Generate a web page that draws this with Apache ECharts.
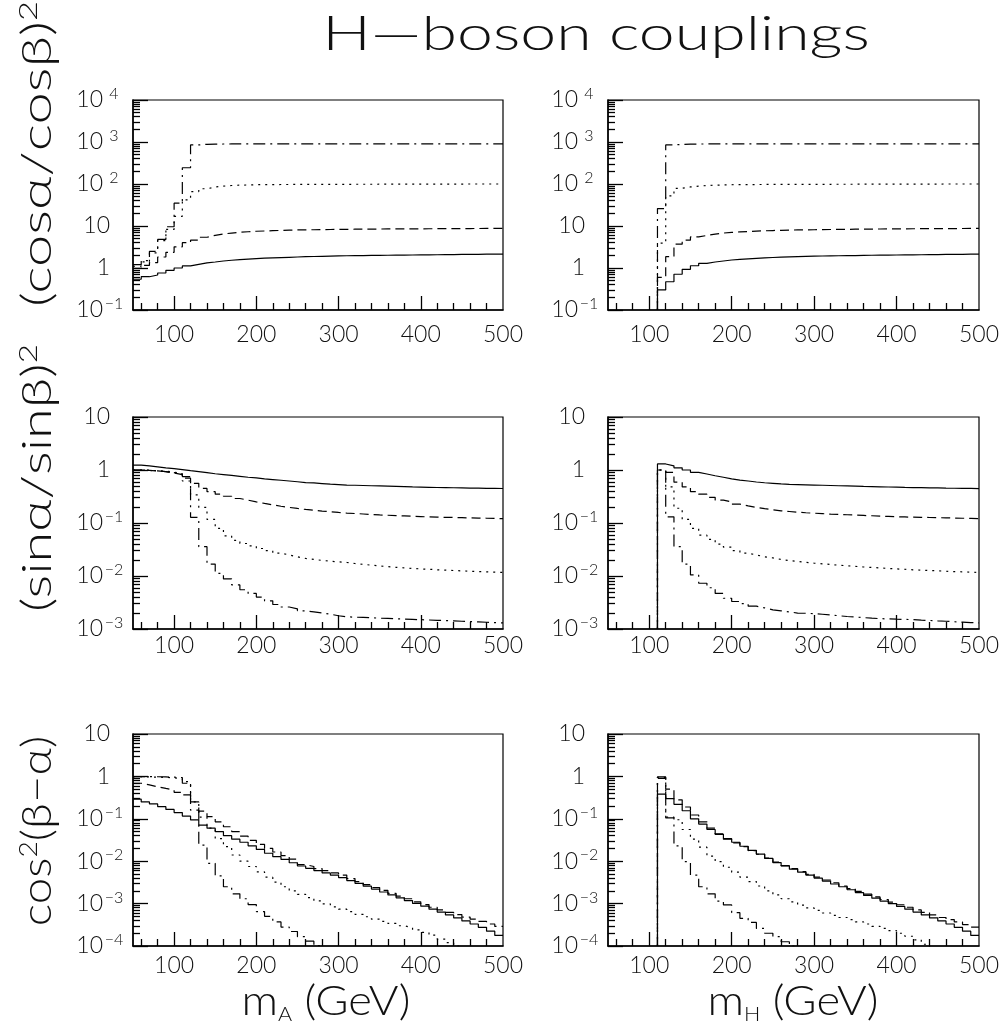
<!DOCTYPE html>
<html><head><meta charset="utf-8">
<script src="https://cdn.jsdelivr.net/npm/echarts@6/dist/echarts.min.js"></script>
<style>html,body{margin:0;padding:0;background:#fff}#c{width:1005px;height:1026px}</style>
</head><body><div id="c"></div>
<script>
// ---------- data (bin left edges, GeV) ----------
const binsA = [50,60,70,80,90,100,110,120,130,140,150,160,170,180,190,200,210,220,230,240,250,260,270,280,290,300,310,320,330,340,350,360,370,380,390,400,410,420,430,440,450,460,470,480,490];
const binsH = [110,120,130,140,150,160,170,180,190,200,210,220,230,240,250,260,270,280,290,300,310,320,330,340,350,360,370,380,390,400,410,420,430,440,450,460,470,480,490];
const binWidth = 10;

const xTickLabels = [100,200,300,400,500];
const xMajorTicks = [100,200,300,400];
const xMinorTicks = [60,80,120,140,160,180,220,240,260,280,320,340,360,380,420,440,460,480];
const yTicksTop = [0.1,1,10,100,1000,10000];
const yTicksMid = [0.001,0.01,0.1,1,10];
const yTicksBot = [0.0001,0.001,0.01,0.1,1,10];

// (cos a / cos b)^2 vs mA
const tlSolid = [0.54,0.62,0.68,0.76,0.88,1.0,1.12,1.22,1.32,1.39,1.47,1.53,1.58,1.63,1.67,1.71,1.74,1.77,1.80,1.83,1.86,1.88,1.90,1.92,1.94,1.96,1.97,1.98,1.99,2.0,2.01,2.02,2.03,2.04,2.05,2.06,2.07,2.08,2.09,2.10,2.11,2.12,2.13,2.14,2.15];
const tlDash = [0.98,1.15,1.35,1.83,2.36,3.2,4.0,4.6,5.4,6.0,6.45,6.8,7.1,7.3,7.5,7.6,7.75,7.85,7.95,8.05,8.1,8.15,8.2,8.25,8.3,8.35,8.38,8.41,8.44,8.47,8.5,8.52,8.54,8.56,8.58,8.6,8.62,8.64,8.66,8.68,8.7,8.72,8.74,8.76,8.78];
const tlDot = [1.1,1.4,2.3,4.5,8.3,17,42,66,77,85,89,92,94,95,96,96.5,97,97.2,97.4,97.6,97.8,98,98.1,98.2,98.3,98.4,98.5,98.6,98.7,98.8,98.9,99,99.1,99.2,99.3,99.4,99.5,99.6,99.7,99.8,99.9,100,100,100,100];
const tlDashDot = [1.2,1.5,2.5,4.8,9.6,35,244,850,880,890,895,898,900,900,900,900,900,900,900,900,900,900,900,900,900,900,900,900,900,900,900,900,900,900,900,900,900,900,900,900,900,900,900,900,900];
// (cos a / cos b)^2 vs mH
const trSolid = [0.30,0.47,0.71,0.93,1.13,1.29,1.39,1.47,1.55,1.60,1.65,1.70,1.74,1.78,1.81,1.84,1.87,1.89,1.91,1.93,1.95,1.96,1.97,1.98,2.0,2.01,2.02,2.03,2.04,2.05,2.06,2.07,2.08,2.09,2.10,2.11,2.12,2.13,2.14];
const trDash = [0.6,1.86,3.7,4.6,5.5,5.95,6.4,6.8,7.05,7.25,7.4,7.55,7.7,7.8,7.9,8.0,8.05,8.1,8.15,8.2,8.25,8.3,8.34,8.38,8.42,8.45,8.48,8.51,8.54,8.57,8.6,8.62,8.64,8.66,8.68,8.7,8.72,8.75,8.78];
const trDot = [3.9,52,79,85,89,92,94,95,96,96.5,97,97.2,97.4,97.6,97.8,98,98.1,98.2,98.3,98.4,98.5,98.6,98.7,98.8,98.9,99,99.1,99.2,99.3,99.4,99.5,99.6,99.7,99.8,99.9,100,100,100,100];
const trDashDot = [26,850,880,890,895,898,900,900,900,900,900,900,900,900,900,900,900,900,900,900,900,900,900,900,900,900,900,900,900,900,900,900,900,900,900,900,900,900,900];
// (sin a / sin b)^2 vs mA
const mlSolid = [1.24,1.2,1.15,1.1,1.06,1.02,0.97,0.93,0.89,0.85,0.82,0.79,0.76,0.73,0.71,0.68,0.66,0.64,0.62,0.60,0.58,0.57,0.555,0.54,0.53,0.52,0.515,0.51,0.505,0.5,0.495,0.49,0.485,0.48,0.476,0.472,0.468,0.465,0.462,0.459,0.456,0.454,0.452,0.45,0.448];
const mlDash = [1.0,0.98,0.96,0.93,0.88,0.82,0.70,0.56,0.45,0.39,0.35,0.32,0.29,0.27,0.25,0.234,0.22,0.207,0.197,0.188,0.18,0.174,0.168,0.163,0.158,0.154,0.151,0.148,0.145,0.142,0.14,0.138,0.136,0.134,0.132,0.13,0.129,0.128,0.127,0.126,0.125,0.124,0.123,0.122,0.121];
const mlDot = [1.0,0.99,0.97,0.95,0.91,0.85,0.62,0.34,0.198,0.117,0.079,0.057,0.047,0.041,0.037,0.033,0.030,0.027,0.025,0.023,0.0215,0.0205,0.0197,0.019,0.0185,0.018,0.0172,0.0166,0.016,0.0155,0.015,0.0146,0.0142,0.0139,0.0136,0.0134,0.0131,0.0129,0.0127,0.0125,0.0123,0.0121,0.012,0.0118,0.0117];
const mlDashDot = [1.0,0.98,0.96,0.93,0.89,0.84,0.75,0.128,0.0357,0.0168,0.0112,0.0088,0.0068,0.0055,0.0047,0.0040,0.0034,0.0029,0.0026,0.0024,0.0022,0.0021,0.002,0.0019,0.00178,0.0017,0.00167,0.00165,0.00163,0.0016,0.00158,0.00156,0.00154,0.00152,0.0015,0.00148,0.00146,0.00144,0.00142,0.0014,0.00138,0.00136,0.00134,0.00132,0.0013];
// (sin a / sin b)^2 vs mH
const mrSolid = [1.30,1.2,1.10,1.0,0.905,0.84,0.78,0.73,0.68,0.645,0.62,0.594,0.575,0.56,0.545,0.535,0.53,0.525,0.52,0.515,0.51,0.505,0.5,0.495,0.49,0.486,0.482,0.478,0.474,0.47,0.467,0.464,0.461,0.458,0.455,0.453,0.451,0.449,0.447];
const mrDash = [1.0,0.9,0.59,0.48,0.39,0.35,0.305,0.27,0.25,0.227,0.21,0.197,0.187,0.178,0.17,0.165,0.16,0.156,0.153,0.15,0.147,0.145,0.143,0.141,0.139,0.137,0.135,0.133,0.131,0.13,0.129,0.128,0.127,0.126,0.125,0.124,0.123,0.122,0.121];
const mrDot = [1.0,0.48,0.19,0.117,0.079,0.059,0.049,0.040,0.035,0.030,0.027,0.025,0.023,0.022,0.0205,0.0195,0.0188,0.0181,0.0175,0.017,0.0165,0.016,0.0156,0.0152,0.0148,0.0145,0.0142,0.0139,0.0136,0.0134,0.0131,0.0129,0.0127,0.0125,0.0123,0.0121,0.012,0.0118,0.0117];
const mrDashDot = [1.0,0.131,0.0357,0.0168,0.0105,0.0073,0.006,0.0047,0.0038,0.0033,0.003,0.0027,0.0025,0.0023,0.0022,0.0021,0.002,0.00198,0.00195,0.0019,0.00184,0.00178,0.00172,0.00168,0.00164,0.0016,0.00157,0.00155,0.00153,0.00152,0.0015,0.00147,0.00145,0.00142,0.0014,0.00137,0.00135,0.00132,0.0013];
// cos^2(b - a) vs mA
const blSolid = [0.29,0.25,0.224,0.193,0.166,0.14,0.116,0.094,0.071,0.060,0.050,0.040,0.033,0.028,0.023,0.019,0.0154,0.0128,0.011,0.0092,0.0077,0.0068,0.006,0.0053,0.0047,0.0041,0.0035,0.003,0.00257,0.0022,0.00188,0.0016,0.00137,0.00118,0.00101,0.00087,0.00074,0.00063,0.00054,0.00046,0.00039,0.00033,0.000275,0.000224,0.000178];
const blDash = [0.69,0.63,0.57,0.52,0.48,0.42,0.365,0.25,0.152,0.112,0.085,0.065,0.050,0.039,0.031,0.025,0.020,0.0165,0.0135,0.0112,0.0083,0.0075,0.0067,0.006,0.0053,0.0047,0.0039,0.0033,0.0028,0.0024,0.00206,0.00175,0.0015,0.0013,0.0011,0.00095,0.00082,0.00071,0.00062,0.00055,0.00048,0.00043,0.00038,0.00033,0.00029];
const blDot = [0.98,0.97,0.96,0.95,0.93,0.88,0.75,0.25,0.11,0.06,0.034,0.022,0.014,0.010,0.0075,0.0056,0.0042,0.0032,0.0025,0.002,0.00165,0.00138,0.00116,0.00098,0.00084,0.00074,0.00065,0.00056,0.00049,0.00043,0.00038,0.00034,0.0003,0.00027,0.00024,0.00021,0.00018,0.000145,0.00012,0.0001,0.000085];
const blDashDot = [0.99,0.99,0.98,0.97,0.96,0.94,0.69,0.16,0.024,0.0089,0.0045,0.0025,0.0017,0.0013,0.00095,0.00065,0.0005,0.00037,0.00028,0.00022,0.000166,0.00013,0.000102,0.00008];
// cos^2(b - a) vs mH
const brSolid = [0.38,0.30,0.22,0.155,0.10,0.075,0.056,0.043,0.033,0.028,0.0225,0.018,0.0147,0.0117,0.0093,0.0077,0.0065,0.0055,0.0047,0.0040,0.0034,0.0029,0.0025,0.00212,0.00182,0.00156,0.00134,0.00115,0.001,0.00086,0.00074,0.00063,0.00054,0.00046,0.00039,0.00033,0.000275,0.000224,0.000178];
const brDash = [0.9,0.50,0.28,0.19,0.123,0.085,0.060,0.044,0.034,0.027,0.022,0.0178,0.0146,0.0118,0.0095,0.0079,0.0067,0.0057,0.0049,0.0042,0.0036,0.0031,0.0026,0.00225,0.00194,0.00167,0.00144,0.00125,0.00108,0.00094,0.00082,0.00071,0.00062,0.00054,0.00047,0.00042,0.00037,0.00032,0.00028];
const brDot = [0.95,0.11,0.095,0.056,0.033,0.0214,0.0132,0.0098,0.0072,0.0055,0.0042,0.0033,0.0026,0.002,0.0016,0.0013,0.0011,0.00092,0.00079,0.00069,0.0006,0.00053,0.00047,0.00042,0.00037,0.00033,0.00029,0.00026,0.00023,0.0002,0.00017,0.00014,0.00011,0.000085];
const brDashDot = [0.97,0.105,0.023,0.0098,0.0047,0.0025,0.0017,0.00115,0.00093,0.00061,0.00045,0.00036,0.00026,0.0002,0.000166,0.000126,0.0001,0.00008];

const titleText = 'H\u2014boson couplings';
const yTitles = ['(cos\u03b1/cos\u03b2){s|2}', '(sin\u03b1/sin\u03b2){s|2}', 'cos{s|2}(\u03b2\u2212\u03b1)'];
const xTitles = ['{m|m}{sub|A}{m| (GeV)}', '{m|m}{sub|H}{m| (GeV)}'];

// ---------- layout ----------
const FONT = 'Lato, "DejaVu Sans", sans-serif';
const INK = '#111';
const panels = [
  {left:133, top:100, width:370, height:210, bins:binsA, yTicks:yTicksTop, ser:[tlSolid,tlDash,tlDot,tlDashDot], fromThreshold:false, lm:13},
  {left:608, top:100, width:371, height:210, bins:binsH, yTicks:yTicksTop, ser:[trSolid,trDash,trDot,trDashDot], fromThreshold:true, lm:13},
  {left:133, top:417, width:370, height:212, bins:binsA, yTicks:yTicksMid, ser:[mlSolid,mlDash,mlDot,mlDashDot], fromThreshold:false, lm:5},
  {left:608, top:417, width:371, height:212, bins:binsH, yTicks:yTicksMid, ser:[mrSolid,mrDash,mrDot,mrDashDot], fromThreshold:true, lm:5},
  {left:133, top:734, width:370, height:212, bins:binsA, yTicks:yTicksBot, ser:[blSolid,blDash,blDot,blDashDot], fromThreshold:false, lm:8},
  {left:608, top:734, width:371, height:212, bins:binsH, yTicks:yTicksBot, ser:[brSolid,brDash,brDot,brDashDot], fromThreshold:true, lm:8}
];
const lineTypes = ['solid', [9,5], [2,5], [12,5,2,5]];

function yFmt(v){
  const e = Math.round(Math.log10(v));
  if (e === 0) return '{p|1}';
  if (e === 1) return '{p|10}';
  return '{b|10}{s|' + (e < 0 ? '\u2212' + (-e) : e) + '}';
}
function minorLog(ticks){
  const out = [];
  for (let i = 0; i < ticks.length - 1; i++) for (let m = 2; m <= 9; m++) out.push(+(m * ticks[i]).toPrecision(6));
  return out;
}

const grid = [], xAxis = [], yAxis = [], series = [];
const tickStyle = {color:'#000', width:1.3};
panels.forEach((p, i) => {
  grid.push({left:p.left, top:p.top, width:p.width, height:p.height, show:true, borderColor:'#000', borderWidth:1.2, containLabel:false, outerBoundsMode:'none'});
  const yMin = p.yTicks[0], yMax = p.yTicks[p.yTicks.length - 1];
  xAxis.push({type:'value', gridIndex:i, position:'bottom', min:50, max:500,
    axisLine:{show:true, onZero:false, lineStyle:{color:'#000', width:1.5}},
    axisTick:{show:true, inside:true, length:14, customValues:xMajorTicks, lineStyle:tickStyle},
    axisLabel:{show:true, customValues:xTickLabels, margin:p.lm, fontSize:23, color:INK, fontFamily:FONT, fontWeight:300},
    splitLine:{show:false}});
  xAxis.push({type:'value', gridIndex:i, position:'bottom', min:50, max:500,
    axisLine:{show:false, onZero:false},
    axisTick:{show:true, inside:true, length:7, customValues:xMinorTicks, lineStyle:tickStyle},
    axisLabel:{show:false}, splitLine:{show:false}});
  yAxis.push({type:'log', logBase:10, gridIndex:i, position:'left', min:yMin, max:yMax,
    axisLine:{show:true, onZero:false, lineStyle:{color:'#000', width:1.5}},
    axisTick:{show:true, inside:true, length:15, customValues:p.yTicks, lineStyle:tickStyle},
    axisLabel:{show:true, customValues:p.yTicks, margin:8, formatter:yFmt, color:INK, fontFamily:FONT,
      rich:{
        p:{fontSize:23, fontFamily:FONT, fontWeight:300, color:INK, padding:[0,15,0,0]},
        b:{fontSize:23, fontFamily:FONT, fontWeight:300, color:INK, lineHeight:28},
        s:{fontSize:16, fontFamily:FONT, fontWeight:300, color:INK, verticalAlign:'top', lineHeight:16, width:22, align:'left'}
      }},
    splitLine:{show:false}});
  yAxis.push({type:'log', logBase:10, gridIndex:i, position:'left', min:yMin, max:yMax,
    axisLine:{show:false, onZero:false},
    axisTick:{show:true, inside:true, length:7, customValues:minorLog(p.yTicks), lineStyle:tickStyle},
    axisLabel:{show:false}, splitLine:{show:false}});
  p.ser.forEach((vals, k) => {
    const data = vals.map((v, j) => [p.bins[j], v]);
    data.push([p.bins[vals.length - 1] + binWidth, vals[vals.length - 1]]);
    if (p.fromThreshold) data.unshift([p.bins[0], yMin]);
    series.push({type:'line', xAxisIndex:2*i, yAxisIndex:2*i, step:'end', symbol:'none', showSymbol:false,
      silent:true, clip:true, animation:false, data:data,
      lineStyle:{color:'#000', width:1.2, type:lineTypes[k]}});
  });
});

const graphic = [
  {type:'text', x:596, y:35, scaleX:1.37, style:{text:titleText, fontSize:47, fontFamily:FONT, fontWeight:300, fill:INK, align:'center', verticalAlign:'middle'}},
];
const yTitlePos = [154, 478, 831];
const yTitleScale = [1.38, 1.33, 1.13];
yTitles.forEach((t, i) => {
  graphic.push({type:'text', x:37, y:yTitlePos[i], rotation:Math.PI/2, scaleX:yTitleScale[i],
    style:{text:t, fontSize:42, fontFamily:FONT, fontWeight:300, fill:INK, align:'center', verticalAlign:'middle',
      rich:{s:{fontSize:25, fontFamily:FONT, fontWeight:300, fill:INK, verticalAlign:'top', lineHeight:25}}}});
});
const xTitlePos = [326, 793];
xTitles.forEach((t, i) => {
  graphic.push({type:'text', x:xTitlePos[i], y:1001, scaleX:1.08,
    style:{text:t, fontFamily:FONT, fill:INK, align:'center', verticalAlign:'middle',
      rich:{m:{fontSize:42, fontFamily:FONT, fontWeight:300, fill:INK, lineHeight:48},
            sub:{fontSize:20, fontFamily:FONT, fontWeight:300, fill:INK, verticalAlign:'bottom', lineHeight:20}}}});
});

const chart = echarts.init(document.getElementById('c'), null, {renderer:'canvas', width:1005, height:1026});
chart.setOption({animation:false, backgroundColor:'#fff', grid, xAxis, yAxis, series, graphic});
</script>
</body></html>
